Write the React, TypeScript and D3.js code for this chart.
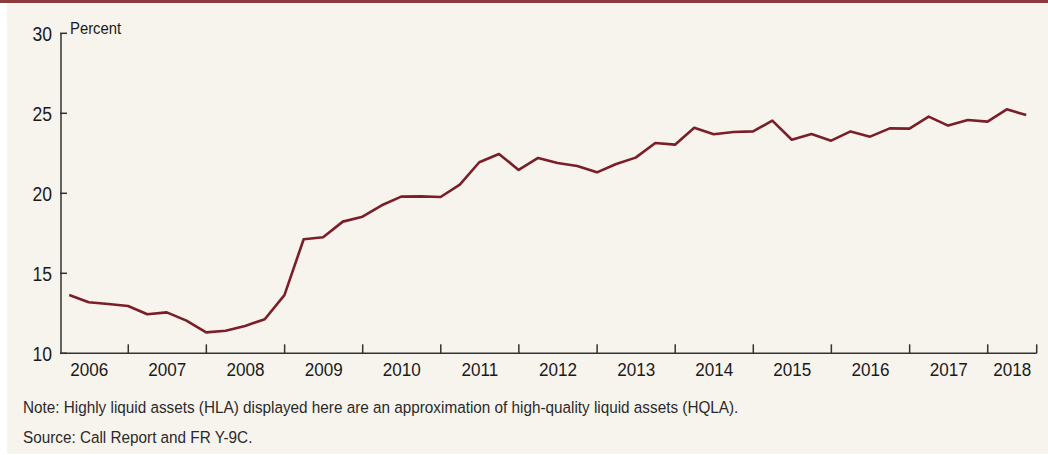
import * as d3 from 'd3'
import type { ReactNode } from 'react'

// Highly liquid assets share, quarterly, 2006Q1 - 2018Q2
const startYear = 2006
const hlaShare = [
  13.64, 13.19, 13.08, 12.96,
  12.44, 12.56, 12.04, 11.31,
  11.41, 11.71, 12.13, 13.64,
  17.13, 17.25, 18.23, 18.54,
  19.25, 19.79, 19.81, 19.77,
  20.54, 21.94, 22.46, 21.46,
  22.21, 21.89, 21.71, 21.31,
  21.83, 22.23, 23.14, 23.04,
  24.1, 23.69, 23.83, 23.87,
  24.54, 23.35, 23.71, 23.29,
  23.87, 23.54, 24.06, 24.04,
  24.79, 24.23, 24.58, 24.48,
  25.25, 24.89,
]
const yearLabels = ['2006', '2007', '2008', '2009', '2010', '2011', '2012', '2013', '2014', '2015', '2016', '2017', '2018']
const yTicks = [10, 15, 20, 25, 30]
const notes = [
  'Note: Highly liquid assets (HLA) displayed here are an approximation of high-quality liquid assets (HQLA).',
  'Source: Call Report and FR Y-9C.',
]

const W = 1048
const H = 455
const font = '"Liberation Sans", Arial, sans-serif'
const lineColor = '#7a1e28'
const axisColor = '#333333'
const squeeze = 0.9 // reference uses a condensed face

// text drawn with a horizontal squeeze, to look like a condensed font
function CText({
  x,
  y,
  size,
  anchor = 'start',
  fill = '#1a1a1a',
  dy,
  children,
}: {
  x: number
  y: number
  size: number
  anchor?: 'start' | 'middle' | 'end'
  fill?: string
  dy?: string
  children: ReactNode
}) {
  return (
    <text
      transform={`translate(${x},${y}) scale(${squeeze},1)`}
      textAnchor={anchor}
      dy={dy}
      fontFamily={font}
      fontSize={size}
      fill={fill}
    >
      {children}
    </text>
  )
}

export default function App() {
  const x0 = new Date(startYear, 0, 1)
  const x1 = new Date(2018, 7, 18)
  const xs = d3.scaleTime().domain([x0, x1]).range([50.2, 1036.7])
  const ys = d3.scaleLinear().domain([10, 30]).range([353.3, 33.3])
  const axisLeft = 61

  // quarter-end dates
  const points = hlaShare.map((v, i) => {
    const y = startYear + Math.floor(i / 4)
    const q = i % 4
    return { date: new Date(y, q * 3 + 3, 0), value: v }
  })

  const line = d3
    .line<{ date: Date; value: number }>()
    .x((d) => xs(d.date))
    .y((d) => ys(d.value))

  const yearTicks = yearLabels.slice(1).map((y) => new Date(+y, 0, 1))
  const baseY = ys(10)

  return (
    <svg width={W} height={H} style={{ position: 'absolute', left: 0, top: 0 }}>
      <rect x={0} y={0} width={W} height={H} fill="#ffffff" />
      <rect x={7} y={0} width={W - 7} height={H - 1} fill="#f7f4ee" />
      <rect x={0} y={0} width={W} height={3} fill="#8c3a3e" />

      {/* y axis */}
      <line x1={axisLeft} x2={axisLeft} y1={ys(30)} y2={baseY} stroke={axisColor} strokeWidth={1.5} />
      {yTicks.map((t) => (
        <g key={t}>
          <line x1={axisLeft - 1} x2={axisLeft + 6} y1={ys(t)} y2={ys(t)} stroke={axisColor} strokeWidth={1.5} />
          <CText x={52} y={ys(t) + 1} dy="0.36em" anchor="end" size={19.5}>
            {t}
          </CText>
        </g>
      ))}
      <CText x={70} y={34} size={16.5}>
        Percent
      </CText>

      {/* x axis */}
      <line x1={axisLeft - 0.75} x2={xs(x1)} y1={baseY} y2={baseY} stroke={axisColor} strokeWidth={1.5} />
      {[...yearTicks, x1].map((d, i) => (
        <line key={i} x1={xs(d)} x2={xs(d)} y1={baseY} y2={baseY - 9} stroke={axisColor} strokeWidth={1.5} />
      ))}
      {yearLabels.map((y) => {
        const a = xs(new Date(+y, 0, 1))
        const b = Math.min(xs(new Date(+y + 1, 0, 1)), xs(x1))
        return (
          <CText key={y} x={(a + b) / 2} y={376} anchor="middle" size={19}>
            {y}
          </CText>
        )
      })}

      {/* series */}
      <path d={line(points) ?? ''} fill="none" stroke={lineColor} strokeWidth={2.6} strokeLinejoin="round" />

      {/* notes */}
      {notes.map((n, i) => (
        <CText key={i} x={23} y={412.5 + i * 30.5} size={17} fill="#2a2a2a">
          {n}
        </CText>
      ))}
    </svg>
  )
}
